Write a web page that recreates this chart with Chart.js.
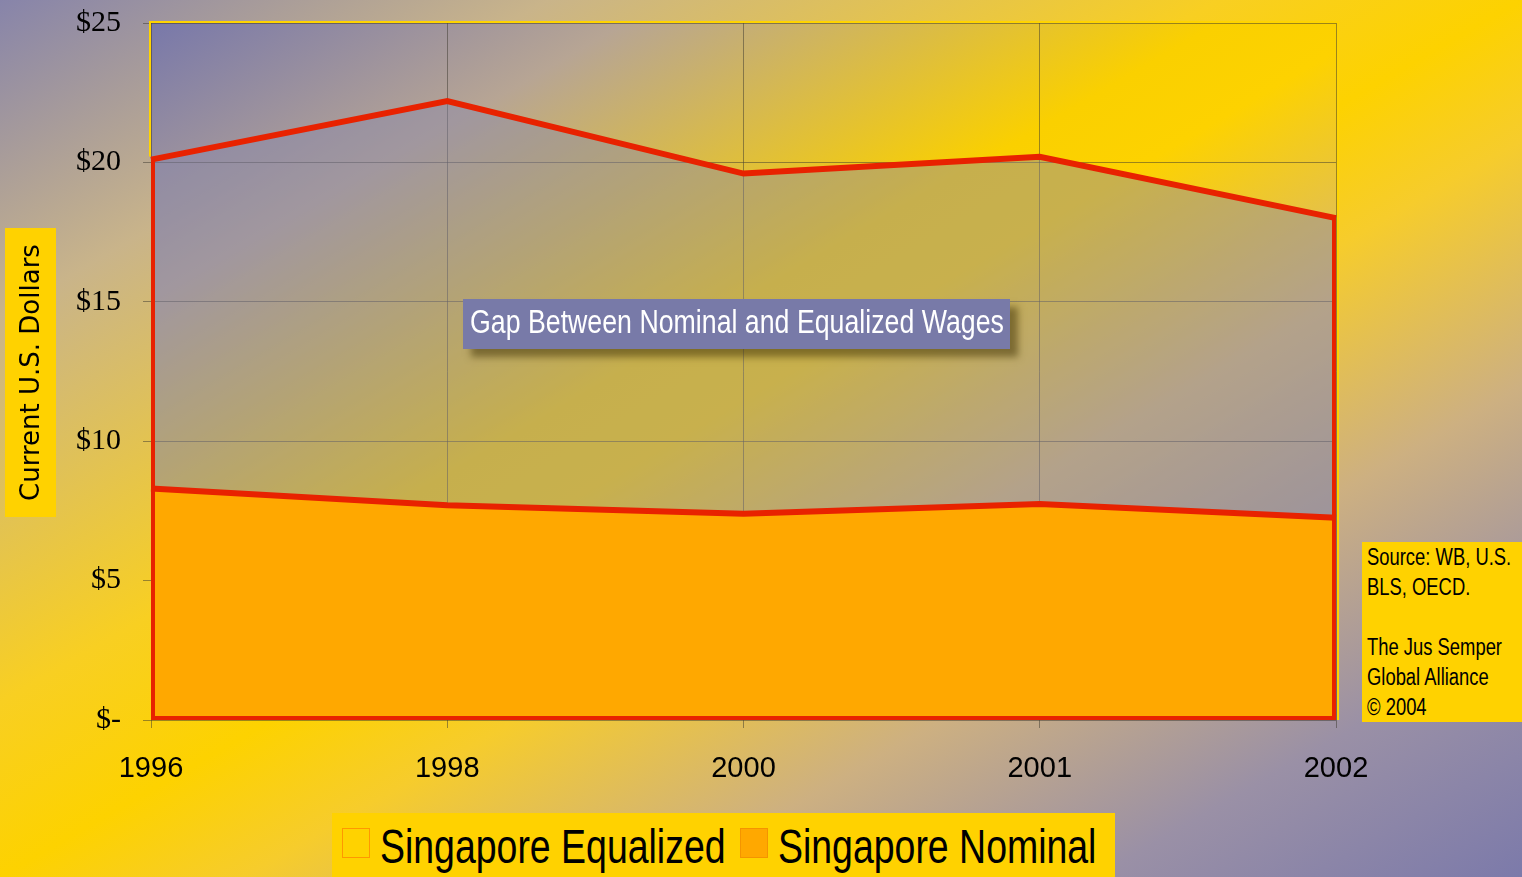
<!DOCTYPE html>
<html>
<head>
<meta charset="utf-8">
<script src="https://cdn.jsdelivr.net/npm/chart.js"></script>
<style>
  html, body { margin: 0; padding: 0; }
  body {
    width: 1522px; height: 877px; overflow: hidden; position: relative;
    background: linear-gradient(to bottom right, #8784aa 0%, #c9b48a 18%, #f8cf22 40%, #fdd200 50%, #f6cc2c 58%, #cdb081 72%, #9a90a6 86%, #7c7aaa 100%);
    font-family: "Liberation Sans", sans-serif;
  }
  #c { position: absolute; left: 0; top: 0; }
  .cond { display: inline-block; white-space: nowrap; transform-origin: 0 50%; }
  #ytitle {
    position: absolute; left: -114px; top: 347px; width: 289px; height: 51px;
    transform: rotate(-90deg); background: #ffd200;
    font-family: "DejaVu Sans", sans-serif; font-size: 26px; line-height: 51px;
    text-align: center; color: #000;
  }
  #gap {
    position: absolute; left: 463px; top: 299px; width: 547px; height: 50px;
    background: #787aa8; color: #fff; font-size: 33px; line-height: 46px;
    box-shadow: 8px 8px 7px rgba(70, 55, 10, 0.55); overflow: visible;
  }
  #gap .cond { position: absolute; left: 7px; top: 0; transform: scaleX(0.81); }
  #source {
    position: absolute; left: 1362px; top: 542px; width: 160px; height: 180px;
    background: #ffd200; color: #000;
  }
  #source .cond { position: absolute; left: 5px; font-size: 23px; line-height: 30px; transform: scaleX(0.8); }
  #legend {
    position: absolute; left: 332px; top: 813px; width: 783px; height: 70px;
    background: #ffd200;
  }
  .sym { position: absolute; top: 15px; width: 28px; height: 30px; box-sizing: border-box; border: 1.5px solid #ff9800; }
  #legend .cond { position: absolute; top: 0; font-size: 48px; line-height: 68px; color: #000; transform: scaleX(0.78); }
</style>
</head>
<body>
<canvas id="c" width="1522" height="877"></canvas>
<div id="ytitle">Current U.S. Dollars</div>
<div id="gap"><span class="cond">Gap Between Nominal and Equalized Wages</span></div>
<div id="source"></div>
<div id="legend"></div>
<script>
var years = ['1996', '1998', '2000', '2001', '2002'];
var equalized = [20.1, 22.2, 19.6, 20.2, 18.0];
var nominal = [8.3, 7.7, 7.4, 7.75, 7.25];
var yTickLabels = ['$-', '$5', '$10', '$15', '$20', '$25'];
var seriesNames = ['Singapore Equalized', 'Singapore Nominal'];
var sourceLines = ['Source: WB, U.S.', 'BLS, OECD.', '', 'The Jus Semper', 'Global Alliance', '\u00a9 2004'];

var lineRed = '#e82200';
var nominalFill = '#ffa800';
var gridColor = 'rgba(60, 55, 45, 0.5)';

// source note, one span per line so the narrow scaling stays on one line
var srcHtml = '';
sourceLines.forEach(function(s, i) {
    if (s) srcHtml += '<span class="cond" style="top:' + (i * 30) + 'px">' + s + '</span>';
});
document.getElementById('source').innerHTML = srcHtml;

// legend
var legendHtml = '';
legendHtml += '<div class="sym" style="left:10px"></div>';
legendHtml += '<span class="cond" style="left:48px">' + seriesNames[0] + '</span>';
legendHtml += '<div class="sym" style="left:408px;background:' + nominalFill + ';border-color:#f49400"></div>';
legendHtml += '<span class="cond" style="left:446px">' + seriesNames[1] + '</span>';
document.getElementById('legend').innerHTML = legendHtml;

// gradient behind the plot area
var plotBg = {
    id: 'plotBg',
    beforeDraw: function(chart) {
        var a = chart.chartArea, ctx = chart.ctx;
        var w = a.right - a.left, h = a.bottom - a.top;
        var k = 2 / (w * w + h * h);
        var g = ctx.createLinearGradient(a.left, a.top, a.left + k * w * h * h, a.top + k * w * w * h);
        g.addColorStop(0, '#7878aa');
        g.addColorStop(0.2, '#b7a594');
        g.addColorStop(0.45, '#fad000');
        g.addColorStop(0.52, '#fdd200');
        g.addColorStop(0.7, '#d8b870');
        g.addColorStop(1, '#8a86aa');
        ctx.save();
        ctx.fillStyle = g;
        ctx.fillRect(a.left, a.top, w, h);
        ctx.restore();
    },
    // red outline down the sides and along the base of each area
    afterDatasetDraw: function(chart, args) {
        var pts = args.meta.data;
        if (!pts.length) return;
        var ctx = chart.ctx;
        var base = chart.scales.y.getPixelForValue(0) - 2;
        var first = pts[0], last = pts[pts.length - 1];
        ctx.save();
        ctx.strokeStyle = lineRed;
        ctx.lineWidth = 4;
        ctx.beginPath();
        ctx.moveTo(first.x + 2, first.y);
        ctx.lineTo(first.x + 2, base);
        ctx.lineTo(last.x - 2, base);
        ctx.lineTo(last.x - 2, last.y);
        ctx.stroke();
        ctx.restore();
    },
    // yellow plot-area border above the red outline
    afterDraw: function(chart) {
        var a = chart.chartArea, ctx = chart.ctx;
        var pts = chart.getDatasetMeta(0).data;
        ctx.save();
        ctx.strokeStyle = '#ffd400';
        ctx.lineWidth = 2;
        ctx.beginPath();
        ctx.moveTo(a.left - 1, pts[0].y - 3);
        ctx.lineTo(a.left - 1, a.top - 1);
        ctx.lineTo(a.right + 2, a.top - 1);
        ctx.lineTo(a.right + 2, a.bottom);
        ctx.stroke();
        ctx.restore();
    }
};

new Chart(document.getElementById('c').getContext('2d'), {
    type: 'line',
    data: {
        labels: years,
        datasets: [{
            label: seriesNames[0],
            data: equalized,
            borderColor: lineRed,
            borderWidth: 6,
            backgroundColor: 'rgba(135, 135, 170, 0.45)',
            fill: 'origin',
            pointRadius: 0,
            tension: 0,
            order: 2
        }, {
            label: seriesNames[1],
            data: nominal,
            borderColor: lineRed,
            borderWidth: 6,
            backgroundColor: nominalFill,
            fill: 'origin',
            pointRadius: 0,
            tension: 0,
            order: 1
        }]
    },
    options: {
        responsive: false,
        animation: false,
        layout: { padding: { left: 0, top: 23, right: 186, bottom: 0 } },
        plugins: {
            legend: { display: false },
            tooltip: { enabled: false }
        },
        scales: {
            x: {
                type: 'category',
                offset: false,
                afterFit: function(scale) {
                    scale.height = 157;
                    scale.paddingLeft = 0;
                    scale.paddingRight = 0;
                },
                grid: { color: gridColor, lineWidth: 1, tickLength: 8 },
                border: { display: false },
                ticks: {
                    color: '#000',
                    padding: 24,
                    maxRotation: 0,
                    font: { family: '"Liberation Sans", sans-serif', size: 29 }
                }
            },
            y: {
                min: 0,
                max: 25,
                afterFit: function(scale) {
                    scale.width = 151;
                    scale.paddingTop = 0;
                    scale.paddingBottom = 0;
                },
                grid: { color: gridColor, lineWidth: 1, tickLength: 8 },
                border: { display: false },
                ticks: {
                    stepSize: 5,
                    color: '#000',
                    padding: 22,
                    font: { family: '"Liberation Serif", serif', size: 30 },
                    callback: function(value) { return yTickLabels[value / 5]; }
                }
            }
        }
    },
    plugins: [plotBg]
});
</script>
</body>
</html>
